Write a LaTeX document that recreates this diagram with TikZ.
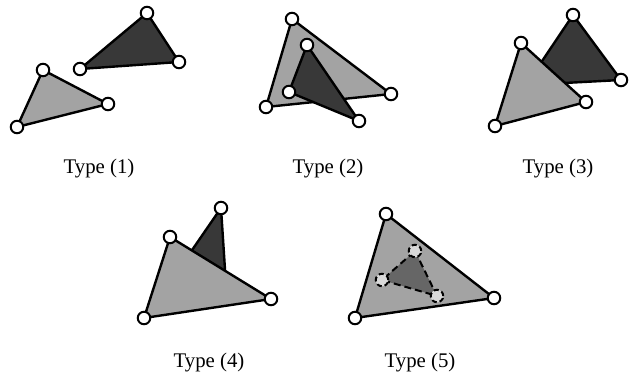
\documentclass[tikz,border=0pt]{standalone}
\usepackage{fontspec}
\setmainfont{Liberation Serif}
\definecolor{lightface}{gray}{0.64}
\definecolor{darkface}{gray}{0.22}
\definecolor{midface}{gray}{0.40}
\definecolor{ghost}{gray}{0.85}
\tikzset{
  tri/.style={line width=2.4pt,line join=round,draw=black},
  lighttri/.style={tri,fill=lightface},
  darktri/.style={tri,fill=darkface},
  vtx/.style={circle,draw=black,fill=white,line width=2pt,minimum size=12.5pt,inner sep=0pt},
  ghostvtx/.style={vtx,fill=ghost,dash pattern=on 5pt off 3pt},
  caption/.style={font=\fontsize{20.8}{24}\selectfont,anchor=base}
}
\begin{document}
\begin{tikzpicture}[x=1pt,y=-1pt]
	\useasboundingbox (0,0) rectangle (634,380);
	% Type (1)
	\coordinate (A1) at (147,13);
	\coordinate (A2) at (179,62);
	\coordinate (A3) at (80,69);
	\coordinate (B1) at (43,70);
	\coordinate (B2) at (108,104);
	\coordinate (B3) at (17,127);
	\draw[darktri] (A1)--(A2)--(A3)--cycle;
	\draw[lighttri] (B1)--(B2)--(B3)--cycle;
	\foreach \p in {A1,A2,A3,B1,B2,B3}
		\node[vtx] (v1\p) at (\p) {};
	\node[caption] (t1) at (99,173.5) {Type (1)};
	
	% Type (2)
	\coordinate (C1) at (292,19);
	\coordinate (C2) at (391,94);
	\coordinate (C3) at (266,107);
	\coordinate (D1) at (307,45);
	\coordinate (D2) at (359,121);
	\coordinate (D3) at (289,92);
	\draw[lighttri] (C1)--(C2)--(C3)--cycle;
	\draw[darktri] (D1)--(D2)--(D3)--cycle;
	\foreach \p in {C1,C2,C3,D1,D2,D3}
		\node[vtx] (v2\p) at (\p) {};
	\node[caption] (t2) at (328,173.5) {Type (2)};
	
	% Type (3)
	\coordinate (E1) at (573,15);
	\coordinate (E2) at (621,80);
	\coordinate (E3) at (526,85);
	\coordinate (F1) at (521,43);
	\coordinate (F2) at (586,102);
	\coordinate (F3) at (495,126);
	\draw[darktri] (E1)--(E2)--(E3)--cycle;
	\draw[lighttri] (F1)--(F2)--(F3)--cycle;
	\foreach \p in {E1,E2,F1,F2,F3}
		\node[vtx] (v3\p) at (\p) {};
	\node[caption] (t3) at (558,173.5) {Type (3)};
	
	% Type (4)
	\coordinate (G1) at (221,208);
	\coordinate (G2) at (226,285);
	\coordinate (G3) at (168,285);
	\coordinate (H1) at (170,237);
	\coordinate (H2) at (271,299);
	\coordinate (H3) at (144,318);
	\draw[darktri] (G1)--(G2)--(G3)--cycle;
	\draw[lighttri] (H1)--(H2)--(H3)--cycle;
	\foreach \p in {G1,H1,H2,H3}
		\node[vtx] (v4\p) at (\p) {};
	\node[caption] (t4) at (209,367.5) {Type (4)};
	
	% Type (5)
	\coordinate (K1) at (386,214);
	\coordinate (K2) at (494,298);
	\coordinate (K3) at (355,318);
	\coordinate (L1) at (415,251);
	\coordinate (L2) at (437,296);
	\coordinate (L3) at (382,280);
	\draw[lighttri] (K1)--(K2)--(K3)--cycle;
	\draw[tri,fill=midface,line width=2pt,dash pattern=on 7pt off 4pt] (L1)--(L2)--(L3)--cycle;
	\foreach \p in {L1,L2,L3}
		\node[ghostvtx] (v5\p) at (\p) {};
	\foreach \p in {K1,K2,K3}
		\node[vtx] (v5\p) at (\p) {};
	\node[caption] (t5) at (420,367.5) {Type (5)};
\end{tikzpicture}
\end{document}
